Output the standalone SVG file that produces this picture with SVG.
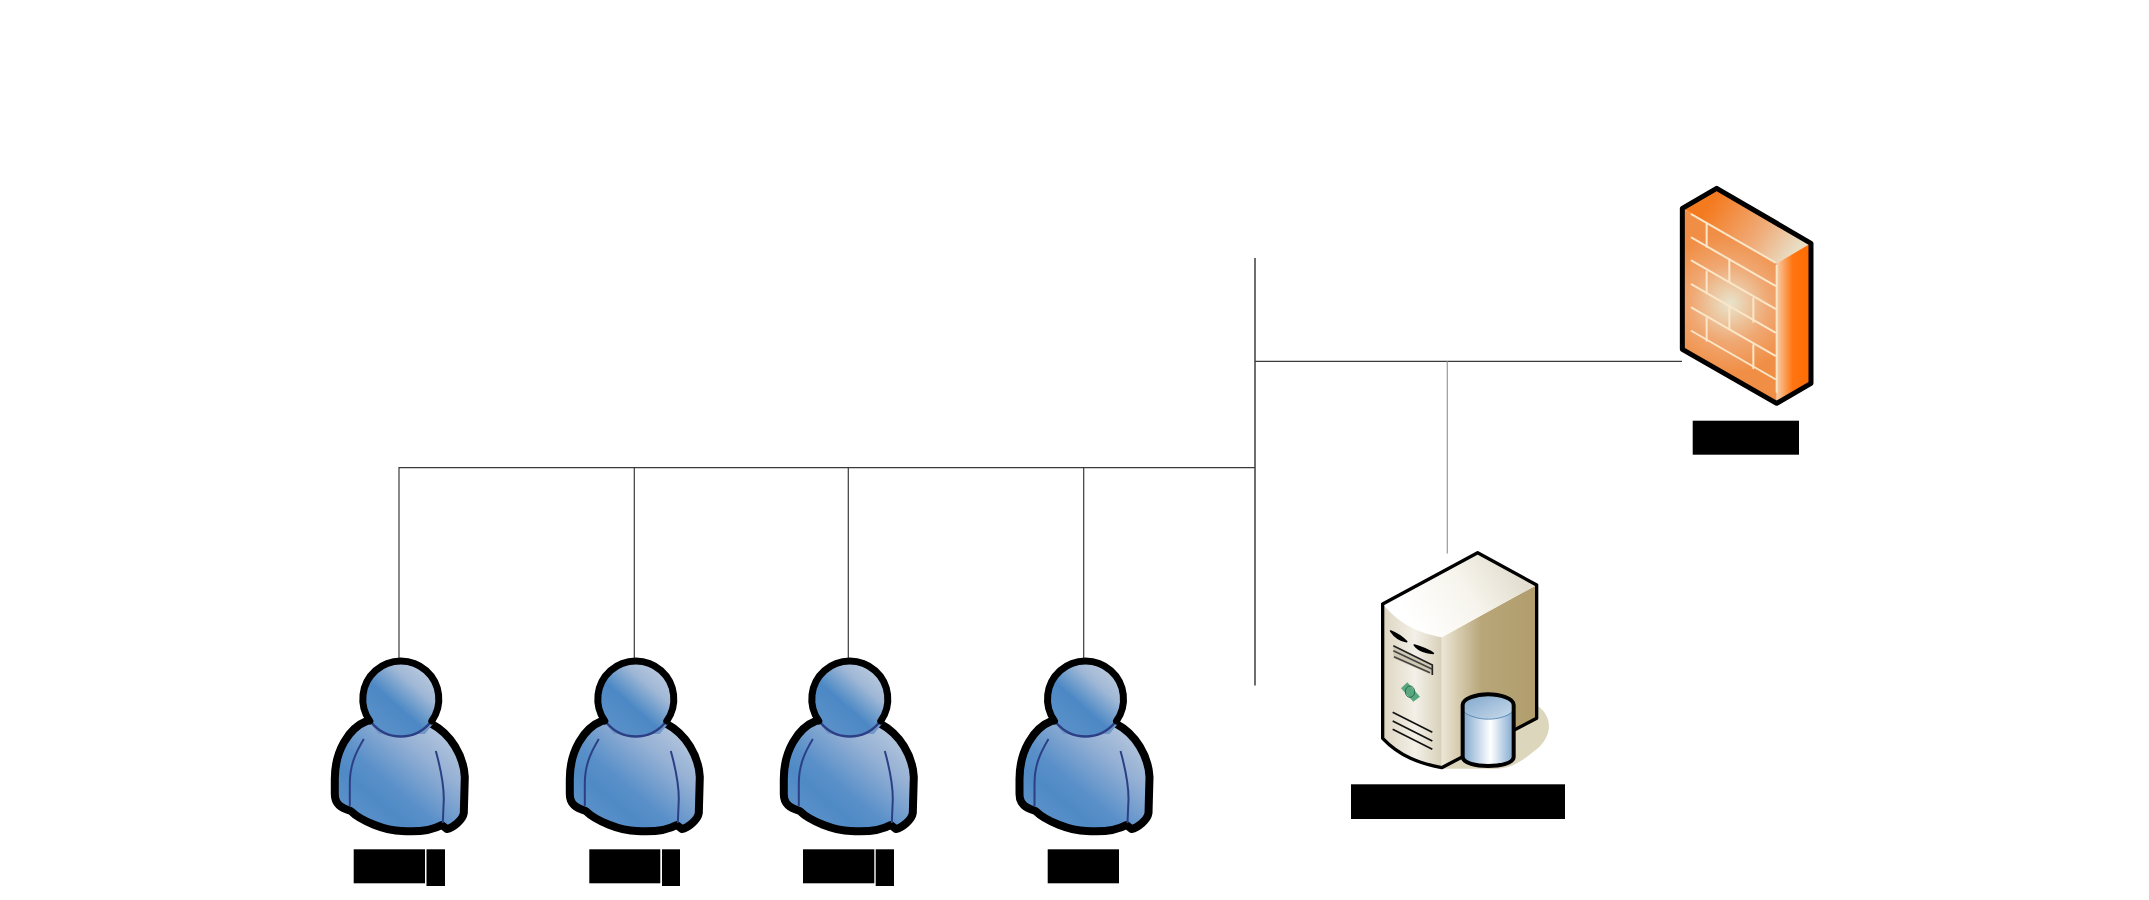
<svg xmlns="http://www.w3.org/2000/svg" xmlns:xlink="http://www.w3.org/1999/xlink" width="2149" height="900" viewBox="0 0 2149 900">
<style>
.wire{fill:none;stroke:#3a3a3a;stroke-width:1.2}
.main{fill:none;stroke:#6e6e6e;stroke-width:2}
.thin{fill:none;stroke:#999;stroke-width:1.2}
.redact{fill:#000}
.brick{fill:none;stroke:#fbe6c8;stroke-width:6;stroke-linecap:round}
.blk{stroke:#000;stroke-linejoin:round;stroke-linecap:round}
</style>
<defs>
<linearGradient id="uBody" x1="1" y1="0.1" x2="0.1" y2="1">
<stop offset="0" stop-color="#c0cee0"/><stop offset="0.3" stop-color="#94b0d4"/><stop offset="0.58" stop-color="#5a90c9"/><stop offset="0.72" stop-color="#4f8ac6"/><stop offset="1" stop-color="#6295cb"/>
</linearGradient>
<linearGradient id="uHead" x1="0.95" y1="0.1" x2="0.2" y2="0.95">
<stop offset="0" stop-color="#c0cee0"/><stop offset="0.3" stop-color="#a0b8d6"/><stop offset="0.5" stop-color="#6a9acb"/><stop offset="0.62" stop-color="#4c88c5"/><stop offset="1" stop-color="#5b91c9"/>
</linearGradient>
<linearGradient id="sRight" gradientUnits="userSpaceOnUse" x1="365" y1="0" x2="650" y2="0">
<stop offset="0" stop-color="#ece6d6"/><stop offset="0.42" stop-color="#b8a679"/><stop offset="1" stop-color="#b19d6c"/>
</linearGradient>
<linearGradient id="sFront" gradientUnits="userSpaceOnUse" x1="188" y1="0" x2="365" y2="0">
<stop offset="0" stop-color="#dcd5c0"/><stop offset="0.55" stop-color="#f3f0e8"/><stop offset="1" stop-color="#d8d0b9"/>
</linearGradient>
<linearGradient id="sTop" gradientUnits="userSpaceOnUse" x1="280" y1="290" x2="580" y2="110">
<stop offset="0" stop-color="#ffffff"/><stop offset="0.55" stop-color="#f6f4ec"/><stop offset="1" stop-color="#e3ded0"/>
</linearGradient>
<linearGradient id="cBody" gradientUnits="userSpaceOnUse" x1="428" y1="0" x2="581" y2="0">
<stop offset="0" stop-color="#7fa7cd"/><stop offset="0.55" stop-color="#ffffff"/><stop offset="1" stop-color="#7fa7cd"/>
</linearGradient>
<linearGradient id="cTop" x1="0" y1="0" x2="1" y2="1">
<stop offset="0" stop-color="#7fa5cb"/><stop offset="1" stop-color="#c9dcec"/>
</linearGradient>
<radialGradient id="fFront" gradientUnits="userSpaceOnUse" cx="240" cy="400" r="210">
<stop offset="0" stop-color="#e8e4cc"/><stop offset="0.55" stop-color="#f0a873"/><stop offset="1" stop-color="#f08e45"/>
</radialGradient>
<linearGradient id="fTop" gradientUnits="userSpaceOnUse" x1="180" y1="100" x2="420" y2="260">
<stop offset="0" stop-color="#f47a1f"/><stop offset="0.6" stop-color="#f0ab78"/><stop offset="1" stop-color="#e8dcc2"/>
</linearGradient>
<linearGradient id="fRight" gradientUnits="userSpaceOnUse" x1="382" y1="0" x2="483" y2="0">
<stop offset="0" stop-color="#f7c8a0"/><stop offset="0.45" stop-color="#ff7512"/><stop offset="1" stop-color="#ff6a00"/>
</linearGradient>
<g id="person">
<path d="M-34,22 C-52,29 -66,52 -66,80 L-66,95 C-66,105 -60,109 -50,112 C-40,122 -15,132 1,132 C15,133 30,132 41,126 L46,130 C52,129 62,121 63,114 L64,78 C63,57 50,35 31,25" fill="url(#uBody)" stroke="#000" stroke-width="8" stroke-linejoin="round" stroke-linecap="round"/>
<path d="M-32,22 L-22,35 L24,35 L33,24 Z" fill="#6f98c8"/>
<path d="M-37,40 C-46,55 -51,67 -51,85 L-51,107" fill="none" stroke="#2c3f85" stroke-width="2"/>
<path d="M35,52 C40,70 43,84 43,100 L42,124" fill="none" stroke="#2c3f85" stroke-width="2"/>
<circle r="37" fill="url(#uHead)"/>
<path d="M29,24 A38,38 0 0 1 -29,24" fill="none" stroke="#2c3f85" stroke-width="2.5"/>
<path d="M-31,22 A38,38 0 1 1 31,22" fill="none" stroke="#000" stroke-width="7" stroke-linecap="round"/>
</g>
</defs>
<rect width="2149" height="900" fill="#fff"/>
<g id="connectors">
<path class="main" d="M1255,258 V685.5"/>
<path class="wire" d="M1255,361.3 H1682"/>
<path class="thin" d="M1447.3,361.3 V553.5"/>
<path class="wire" d="M1255,467.7 H399 V658"/>
<path class="wire" d="M634.3,467.7 V658"/>
<path class="wire" d="M848.3,467.7 V658"/>
<path class="wire" d="M1083.7,467.7 V658"/>
</g>
<g id="user1"><use xlink:href="#person" href="#person" x="400.8" y="699"/><rect class="redact" x="353.7" y="849.3" width="71.3" height="34"/><rect class="redact" x="426.5" y="849.3" width="18.5" height="36.7"/></g>
<g id="user2"><use xlink:href="#person" href="#person" x="635.8" y="699"/><rect class="redact" x="589.3" y="849.3" width="71" height="34"/><rect class="redact" x="662" y="849.3" width="18" height="36.7"/></g>
<g id="user3"><use xlink:href="#person" href="#person" x="849.8" y="699"/><rect class="redact" x="803" y="849.3" width="71.3" height="34"/><rect class="redact" x="875.7" y="849.3" width="18.3" height="36.7"/></g>
<g id="user4"><use xlink:href="#person" href="#person" x="1085.5" y="699"/><rect class="redact" x="1047.7" y="849.3" width="71.3" height="34"/></g>
<g id="server">
<g transform="translate(1320 530) scale(.33333)">
<path d="M640,520 C700,550 705,620 640,665 C600,700 560,722 500,716 L365,716 Z" fill="#dcd6bd"/>
<path d="M365,322 L650,165 V565 L365,713 Z" fill="url(#sRight)"/>
<path d="M188,222 L473,68 L650,165 L365,322 C300,310 240,285 188,222 Z" fill="url(#sTop)"/>
<path d="M188,222 C240,285 300,310 365,322 V713 C300,700 240,680 188,625 Z" fill="url(#sFront)"/>
<path d="M188,222 L473,68 L650,165 V565 L365,713 C300,700 240,680 188,625 Z" fill="none" stroke="#000" stroke-width="10" stroke-linejoin="round"/>
<path d="M212,303 C230,310 248,322 260,335 C240,332 222,318 212,303 Z" class="blk" stroke-width="5"/>
<path d="M283,345 C300,350 325,358 340,370 C320,370 295,362 283,345 Z" class="blk" stroke-width="5"/>
<path d="M220,347 L337,405 V435 L220,385 Z" fill="#cfc8b2"/>
<path d="M220,347 L337,405 V435" fill="none" stroke="#222" stroke-width="5"/>
<path d="M220,362 L337,418 M222,380 L330,428" fill="none" stroke="#444" stroke-width="5"/>
<path d="M262,457 L300,500 L280,515 L243,475 Z" fill="#5aa77f"/>
<ellipse cx="270" cy="485" rx="14" ry="17" fill="none" stroke="#1d6b4a" stroke-width="3"/>
<path d="M218,547 L337,607 M218,573 L337,633 M218,598 L337,658" fill="none" stroke="#111" stroke-width="5"/>
<path d="M428,525 V680 C428,700 470,708 504,708 C540,708 581,700 581,680 V525 Z" fill="url(#cBody)"/>
<ellipse cx="504" cy="530" rx="76" ry="37" fill="url(#cTop)"/>
<path d="M430,545 C470,575 540,575 580,545" fill="none" stroke="#5b8bb8" stroke-width="3"/>
<path d="M428,525 V680 C428,700 470,708 504,708 C540,708 581,700 581,680 V525 C581,505 540,493 504,493 C470,493 428,505 428,525 Z" fill="none" stroke="#000" stroke-width="12"/>
</g>
<rect class="redact" x="1351" y="784.3" width="214" height="34.7"/>
</g>
<g id="firewall">
<g transform="translate(1650 170) scale(.33333)">
<path d="M97,115 L200,55 L483,220 L380,280 Z" fill="url(#fTop)"/>
<path d="M97,115 L380,280 V700 L97,538 Z" fill="url(#fFront)"/>
<path d="M380,280 L483,220 V640 L380,700 Z" fill="url(#fRight)"/>
<path class="brick" d="M125,133 L375,277 M125,203 L375,347 M125,272 L375,416 M125,343 L375,487 M125,413 L375,557 M125,483 L375,627"/>
<path class="brick" d="M170,160 V230 M238,268 V335 M170,305 V370 M310,385 V455 M238,410 V478 M170,445 V512 M310,525 V595"/>
<path d="M380,285 V668" fill="none" stroke="#fbe6c8" stroke-width="6"/>
<path d="M97,115 L200,55 L483,220 V640 L380,700 L97,538 Z" fill="none" stroke="#000" stroke-width="15" stroke-linejoin="round"/>
</g>
<rect class="redact" x="1692.7" y="420.7" width="106.3" height="34"/>
</g>
</svg>
